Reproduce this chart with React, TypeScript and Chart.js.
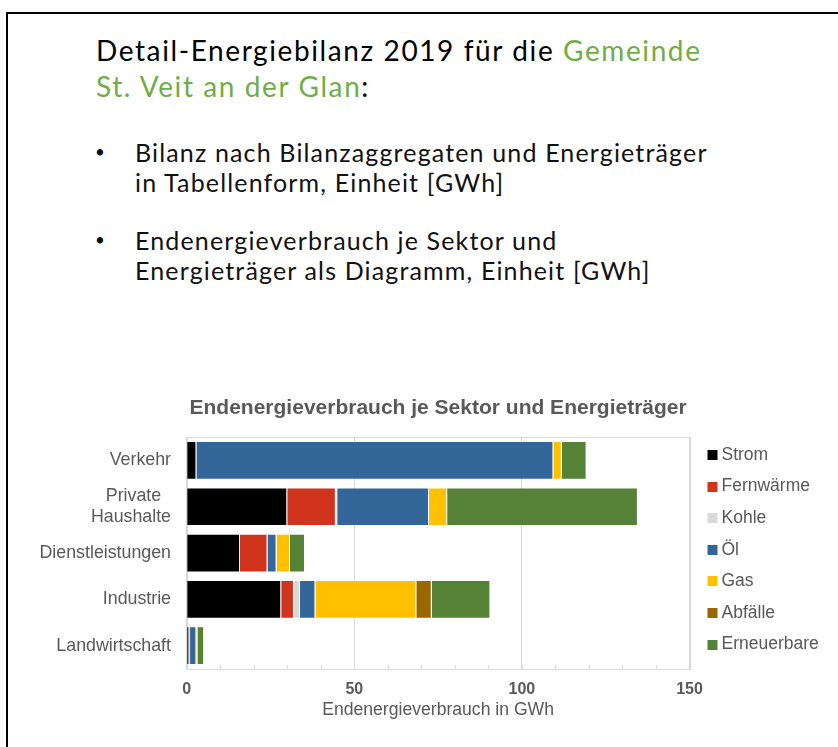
import React, { useEffect, useRef } from "react";
import { Chart, registerables } from "chart.js";

Chart.register(...registerables);

const CATEGORIES: (string | string[])[] = [
  "Verkehr",
  ["Private  ", "Haushalte"],
  "Dienstleistungen",
  "Industrie",
  "Landwirtschaft",
];
const SERIES_NAMES = ["Strom", "Fernwärme", "Kohle", "Öl", "Gas", "Abfälle", "Erneuerbare"];
const STROM = [2.9, 30.0, 15.9, 28.2, 0.8];
const FERNWAERME = [0, 14.5, 8.2, 3.8, 0.2];
const KOHLE = [0, 0.4, 0, 1.8, 0];
const OEL = [106.5, 27.4, 2.7, 4.6, 1.9];
const GAS = [2.5, 5.4, 4.0, 30.1, 0.3];
const ABFAELLE = [0, 0, 0, 4.6, 0];
const ERNEUERBARE = [7.4, 56.9, 4.5, 17.5, 2.0];
const SERIES_VALUES = [STROM, FERNWAERME, KOHLE, OEL, GAS, ABFAELLE, ERNEUERBARE];
const SERIES_COLORS = ["#000000", "#D0341C", "#D9D9D9", "#336699", "#FFC000", "#996600", "#558237"];
const X_MIN = 0;
const X_MAX = 150;
const X_MAJOR_STEP = 50;
const X_MINOR_STEP = 10;

const FONT = "'Liberation Sans', Arial, sans-serif";
const TEXT_GRAY = "#595959";
const LINE_GRAY = "#D9D9D9";

const frameAndTicksPlugin = {
  id: "frameAndTicks",
  beforeDatasetsDraw(chart: any) {
    const { ctx, chartArea } = chart;
    const xs = chart.scales.x;
    ctx.save();
    ctx.strokeStyle = LINE_GRAY;
    ctx.lineWidth = 1;
    ctx.beginPath();
    for (let v = X_MIN + X_MINOR_STEP; v < X_MAX; v += X_MINOR_STEP) {
      const px = Math.round(xs.getPixelForValue(v)) + 0.5;
      ctx.moveTo(px, chartArea.bottom);
      ctx.lineTo(px, chartArea.bottom - 4);
    }
    ctx.stroke();
    ctx.strokeRect(
      Math.round(chartArea.left) + 0.5,
      Math.round(chartArea.top) + 0.5,
      Math.round(chartArea.right - chartArea.left),
      Math.round(chartArea.bottom - chartArea.top)
    );
    ctx.restore();
  },
};

const sideLegendPlugin = {
  id: "sideLegend",
  afterDraw(chart: any) {
    const { ctx, chartArea } = chart;
    const x0 = chartArea.right + 18;
    const step = 31.6;
    const y0 = chartArea.top + 17.7;
    ctx.save();
    ctx.font = `17.5px ${FONT}`;
    ctx.textBaseline = "middle";
    ctx.textAlign = "left";
    chart.data.datasets.forEach((ds: any, i: number) => {
      const y = y0 + i * step;
      ctx.fillStyle = ds.backgroundColor;
      ctx.fillRect(x0, Math.round(y - 5), 10, 10);
      ctx.fillStyle = TEXT_GRAY;
      ctx.fillText(ds.label, x0 + 14, y);
    });
    ctx.restore();
  },
};

function EnergyChart() {
  const ref = useRef<HTMLCanvasElement | null>(null);
  useEffect(() => {
    if (!ref.current) return;
    const chart = new Chart(ref.current, {
      type: "bar",
      data: {
        labels: CATEGORIES as any,
        datasets: SERIES_NAMES.map((name, i) => ({
          label: name,
          data: SERIES_VALUES[i],
          backgroundColor: SERIES_COLORS[i],
          borderColor: "rgba(255,255,255,0.35)",
          borderWidth: 1,
          categoryPercentage: 1,
          barPercentage: 0.836,
        })),
      },
      options: {
        indexAxis: "y",
        responsive: false,
        maintainAspectRatio: false,
        animation: false,
        layout: { padding: { left: 0, right: 148.5, top: 0, bottom: 3.8 } },
        plugins: {
          legend: { display: false },
          tooltip: { enabled: false },
          title: {
            display: true,
            text: "Endenergieverbrauch je Sektor und Energieträger",
            fullSize: false,
            color: TEXT_GRAY,
            font: { family: FONT, size: 21, weight: "bold" },
            padding: { top: 15.4, bottom: 16.7 },
          },
        },
        scales: {
          x: {
            stacked: true,
            min: X_MIN,
            max: X_MAX,
            ticks: {
              stepSize: X_MAJOR_STEP,
              color: TEXT_GRAY,
              font: { family: FONT, size: 16, weight: "bold" },
              padding: 11,
              maxRotation: 0,
            },
            grid: { color: LINE_GRAY, drawTicks: false },
            border: { display: false },
            title: {
              display: true,
              text: "Endenergieverbrauch in GWh",
              color: TEXT_GRAY,
              font: { family: FONT, size: 17.6 },
              padding: { top: 0, bottom: 0 },
            },
            afterFit(scale: any) {
              scale.height = 52.4;
            },
          },
          y: {
            stacked: true,
            ticks: {
              color: TEXT_GRAY,
              font: { family: FONT, size: 17.8 },
              padding: 15.7,
            },
            grid: { display: false, drawTicks: false },
            border: { display: false },
            afterFit(scale: any) {
              scale.width = 186.7;
            },
          },
        },
      } as any,
      plugins: [frameAndTicksPlugin, sideLegendPlugin],
    });
    return () => chart.destroy();
  }, []);
  return (
    <canvas
      ref={ref}
      width={838}
      height={345}
      style={{ position: "absolute", left: 0, top: 380, width: 838, height: 345 }}
    />
  );
}

const GREEN = "#70AD47";
const SLIDE_FONT = "Lato, 'Open Sans', sans-serif";

export default function App() {
  return (
    <div
      style={{
        position: "absolute",
        left: 0,
        top: 0,
        width: 838,
        height: 747,
        overflow: "hidden",
        background: "#fff",
      }}
    >
      <div
        style={{
          position: "absolute",
          left: 6,
          top: 12,
          width: 900,
          height: 800,
          borderTop: "2px solid #000",
          borderLeft: "2px solid #000",
        }}
      />
      <div
        style={{
          position: "absolute",
          left: 96,
          top: 32,
          fontFamily: SLIDE_FONT,
          fontSize: 28,
          letterSpacing: "1.6px",
          lineHeight: "36px",
          color: "#000",
          whiteSpace: "nowrap",
        }}
      >
        Detail-Energiebilanz 2019 für die <span style={{ color: GREEN }}>Gemeinde</span>
        <br />
        <span style={{ color: GREEN }}>St. Veit an der Glan</span>:
      </div>
      {[
        { top: 136.5, lines: ["Bilanz nach Bilanzaggregaten und Energieträger", "in Tabellenform, Einheit [GWh]"] },
        { top: 224.5, lines: ["Endenergieverbrauch je Sektor und", "Energieträger als Diagramm, Einheit [GWh]"] },
      ].map((b, i) => (
        <div
          key={i}
          style={{
            position: "absolute",
            left: 0,
            top: b.top,
            fontFamily: SLIDE_FONT,
            fontSize: 25,
            letterSpacing: "1.15px",
            lineHeight: "30.5px",
            color: "#111",
            whiteSpace: "nowrap",
          }}
        >
          <span style={{ position: "absolute", left: 95, fontSize: 17 }}>•</span>
          <div style={{ position: "absolute", left: 135 }}>
            {b.lines[0]}
            <br />
            {b.lines[1]}
          </div>
        </div>
      ))}
      <EnergyChart />
    </div>
  );
}
